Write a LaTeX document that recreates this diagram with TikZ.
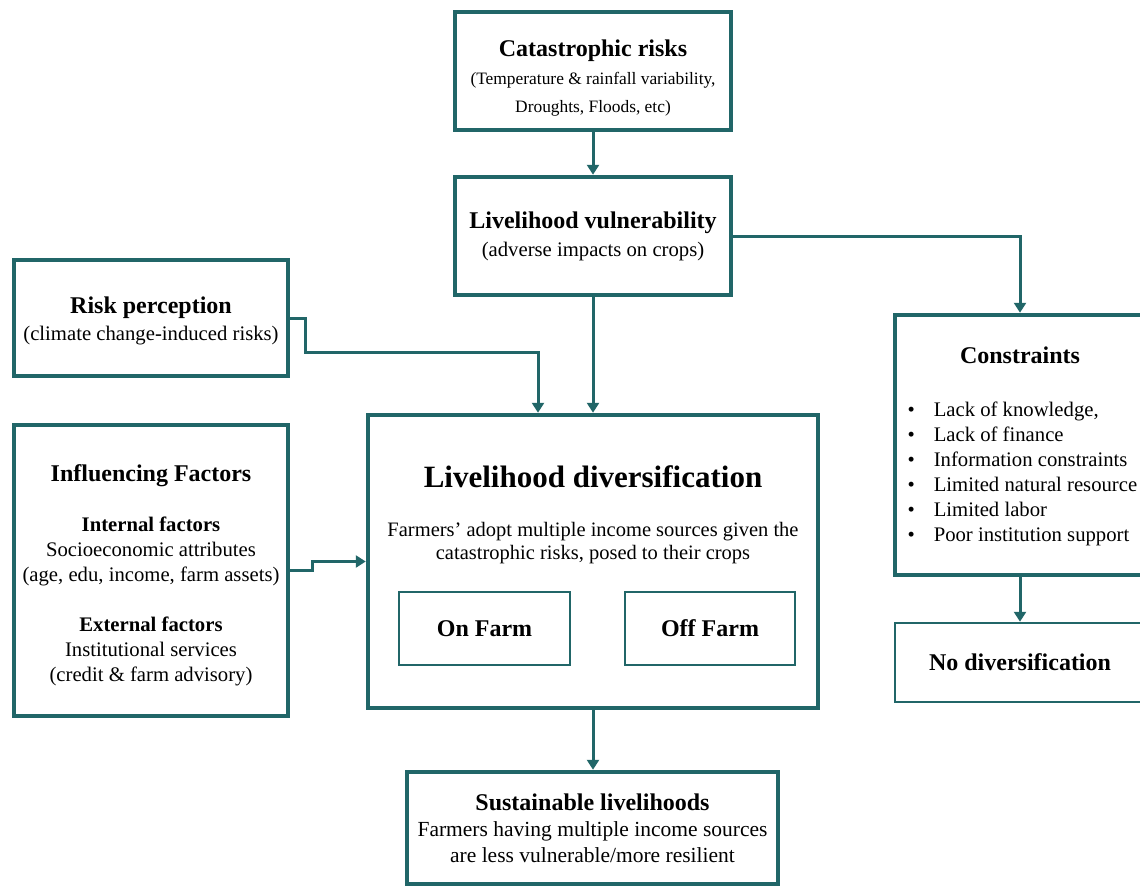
\documentclass[tikz,border=0pt]{standalone}
\usepackage{fontspec}
\setmainfont{Liberation Serif}
\usetikzlibrary{arrows.meta}
\definecolor{boxteal}{RGB}{33,102,104}
\tikzset{
	bigbox/.style={draw=boxteal,line width=4.5pt,inner sep=0pt,align=center,font=\fontsize{20.7}{25}\selectfont},
	thinbox/.style={draw=boxteal,line width=2.5pt,inner sep=0pt,align=center,font=\fontsize{24}{28}\selectfont\bfseries},
	arr/.style={draw=boxteal,line width=3pt,-{Triangle[width=12pt,length=10pt]}}
}
\newcommand{\boxtitle}[1]{{\fontsize{24}{28}\selectfont\bfseries #1}}
\begin{document}
\begin{tikzpicture}[x=1pt,y=-1pt]
				\useasboundingbox (0,0) rectangle (1140,889);
				\clip (0,0) rectangle (1140,889);
				% top column
				\node[bigbox,minimum width=276pt,minimum height=118pt,font=\fontsize{17.4}{28}\selectfont] (cat) at (593,71)
					{\rule{0pt}{31pt}\boxtitle{Catastrophic risks}\\(Temperature \& rainfall variability,\\Droughts, Floods, etc)};
				\node[bigbox,minimum width=276pt,minimum height=118pt,font=\fontsize{20.7}{28}\selectfont] (vuln) at (593,236)
					{\boxtitle{Livelihood vulnerability}\\(adverse impacts on crops)};
				% left column
				\node[bigbox,minimum width=274pt,minimum height=116pt,font=\fontsize{20.7}{27}\selectfont] (risk) at (151,318)
					{\rule{0pt}{22pt}\boxtitle{Risk perception}\\(climate change-induced risks)};
				\node[bigbox,minimum width=274pt,minimum height=291pt] (infl) at (151,570.5)
					{\rule{0pt}{27pt}\boxtitle{Influencing Factors}\\[25pt]
					{\bfseries Internal factors}\\Socioeconomic attributes\\(age, edu, income, farm assets)\\[25pt]
					{\bfseries External factors}\\Institutional services\\(credit \& farm advisory)};
				% centre
				\node[bigbox,minimum width=450pt,minimum height=293pt] (div) at (593,561.5) {};
				\node[align=center,font=\fontsize{20.5}{23}\selectfont] (divtext) at (593,515)
					{{\fontsize{31}{34}\selectfont\bfseries Livelihood diversification}\\[26pt]
					Farmers’ adopt multiple income sources given the\\catastrophic risks, posed to their crops};
				\node[thinbox,minimum width=171pt,minimum height=73pt] (onfarm) at (484.5,628.5) {On Farm};
				\node[thinbox,minimum width=170pt,minimum height=73pt] (offfarm) at (710,628.5) {Off Farm};
				\node[bigbox,minimum width=371pt,minimum height=112pt,font=\fontsize{21.5}{26}\selectfont] (sust) at (592.5,828)
					{\boxtitle{Sustainable livelihoods}\\Farmers having multiple income sources\\are less vulnerable/more resilient};
				% right column
				\node[bigbox,minimum width=250pt,minimum height=260pt] (cons) at (1020,445) {};
				\node[font=\fontsize{24}{28}\selectfont\bfseries] (constitle) at (1020,355) {Constraints};
				\node[anchor=west,align=left,font=\fontsize{20.7}{25}\selectfont] (conslist) at (904,473.5)
					{\textbullet\hspace{19pt}Lack of knowledge,\\
					\textbullet\hspace{19pt}Lack of finance\\
					\textbullet\hspace{19pt}Information constraints\\
					\textbullet\hspace{19pt}Limited natural resource\\
					\textbullet\hspace{19pt}Limited labor\\
					\textbullet\hspace{19pt}Poor institution support};
				\node[thinbox,minimum width=250pt,minimum height=79pt] (nodiv) at (1020,662.5) {No diversification};
				% connectors
				\draw[arr] (cat.south) -- (vuln.north);
				\draw[arr] (vuln.east) -| (cons.north);
				\draw[arr] (vuln.south) -- (div.north);
				\draw[arr] (risk.east) -- (305,318) -- (305,352) -| ([xshift=-55pt]div.north);
				\draw[arr] (infl.east) -- ++(22,0) |- (div.west);
				\draw[arr] (div.south) -- (div.south |- sust.north);
				\draw[arr] (cons.south) -- (nodiv.north);
\end{tikzpicture}
\end{document}
